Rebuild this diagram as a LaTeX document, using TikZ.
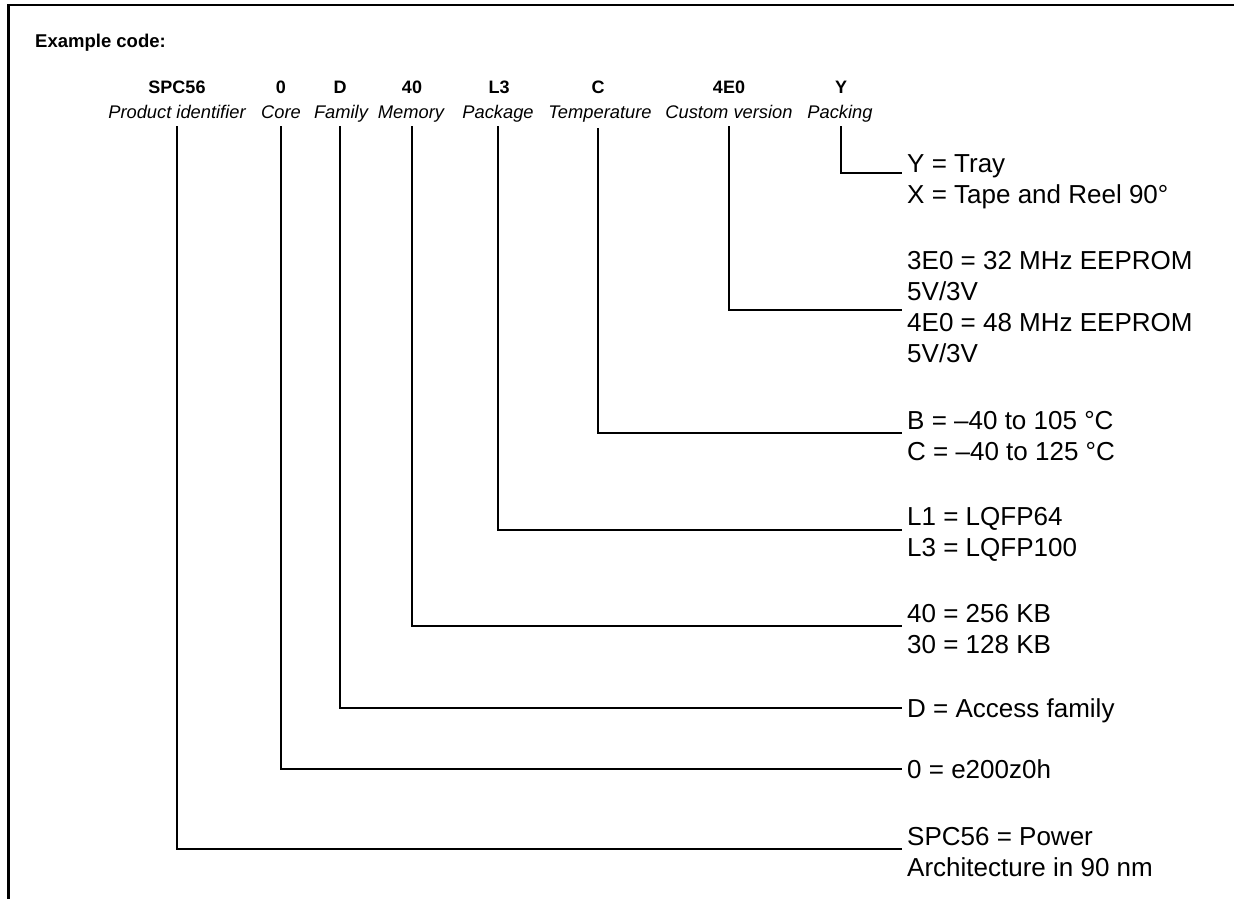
\documentclass[tikz,border=0pt]{standalone}
\usepackage{fontspec}
\setmainfont{Liberation Sans}
\begin{document}
\begin{tikzpicture}[x=1pt,y=-1pt,
  code/.style={font=\fontsize{18}{20}\selectfont\bfseries, anchor=base, inner sep=0pt},
  lbl/.style={font=\fontsize{18.3}{20}\selectfont\itshape, anchor=base, inner sep=0pt},
  desc/.style={font=\fontsize{26}{31}\selectfont, anchor=base west, inner sep=0pt},
  conn/.style={line width=1.6pt, line join=miter},
  frame/.style={line width=2.2pt, line join=miter}]
\useasboundingbox (0,0) rectangle (1234,899);
\draw[frame] (1234,5) -- (8.5,5) -- (8.5,899);

\node[font=\fontsize{18.5}{20}\selectfont\bfseries, anchor=base west, inner sep=0pt] (title) at (35,48) {Example code:};

% code row
\node[code] (kSPC) at (177,93) {SPC56};
\node[code] (kCore) at (281,93) {0};
\node[code] (kFam) at (340,93) {D};
\node[code] (kMem) at (412,93) {40};
\node[code] (kPkg) at (499,93) {L3};
\node[code] (kTmp) at (598,93) {C};
\node[code] (kCus) at (729,93) {4E0};
\node[code] (kPck) at (841,93) {Y};

\node[lbl] (lSPC) at (177,118) {Product identifier};
\node[lbl] (lCore) at (281,118) {Core};
\node[lbl] (lFam) at (341,118) {Family};
\node[lbl] (lMem) at (411,118) {Memory};
\node[lbl] (lPkg) at (498,118) {Package};
\node[lbl] (lTmp) at (600,118) {Temperature};
\node[lbl] (lCus) at (729,118) {Custom version};
\node[lbl] (lPck) at (840,118) {Packing};

% descriptions
\node[desc] (dPck) at (907,172) {\vtop{\hbox{Y = Tray}\hbox{X = Tape and Reel 90°}}};
\node[desc] (dCus) at (907,269) {\vtop{\hbox{3E0 = 32 MHz EEPROM}\hbox{5V/3V}\hbox{4E0 = 48 MHz EEPROM}\hbox{5V/3V}}};
\node[desc] (dTmp) at (907,429) {\vtop{\hbox{B = –40 to 105 °C}\hbox{C = –40 to 125 °C}}};
\node[desc] (dPkg) at (907,525) {\vtop{\hbox{L1 = LQFP64}\hbox{L3 = LQFP100}}};
\node[desc] (dMem) at (907,622) {\vtop{\hbox{40 = 256 KB}\hbox{30 = 128 KB}}};
\node[desc] (dFam) at (907,717) {D = Access family};
\node[desc] (dCore) at (907,778) {0 = e200z0h};
\node[desc] (dSPC) at (907,845) {\vtop{\hbox{SPC56 = Power}\hbox{Architecture in 90 nm}}};

% connector ends
\coordinate (sSPC) at (177,126); \coordinate (eSPC) at (902,849);
\coordinate (sCore) at (281,126); \coordinate (eCore) at (902,769);
\coordinate (sFam) at (340,126); \coordinate (eFam) at (902,708);
\coordinate (sMem) at (412,126); \coordinate (eMem) at (902,626);
\coordinate (sPkg) at (498,126); \coordinate (ePkg) at (902,530);
\coordinate (sTmp) at (598,128); \coordinate (eTmp) at (902,433);
\coordinate (sCus) at (729,126); \coordinate (eCus) at (902,310);
\coordinate (sPck) at (841,126); \coordinate (ePck) at (902,173);

\draw[conn] (sSPC) |- (eSPC);
\draw[conn] (sCore) |- (eCore);
\draw[conn] (sFam) |- (eFam);
\draw[conn] (sMem) |- (eMem);
\draw[conn] (sPkg) |- (ePkg);
\draw[conn] (sTmp) |- (eTmp);
\draw[conn] (sCus) |- (eCus);
\draw[conn] (sPck) |- (ePck);
\end{tikzpicture}
\end{document}
